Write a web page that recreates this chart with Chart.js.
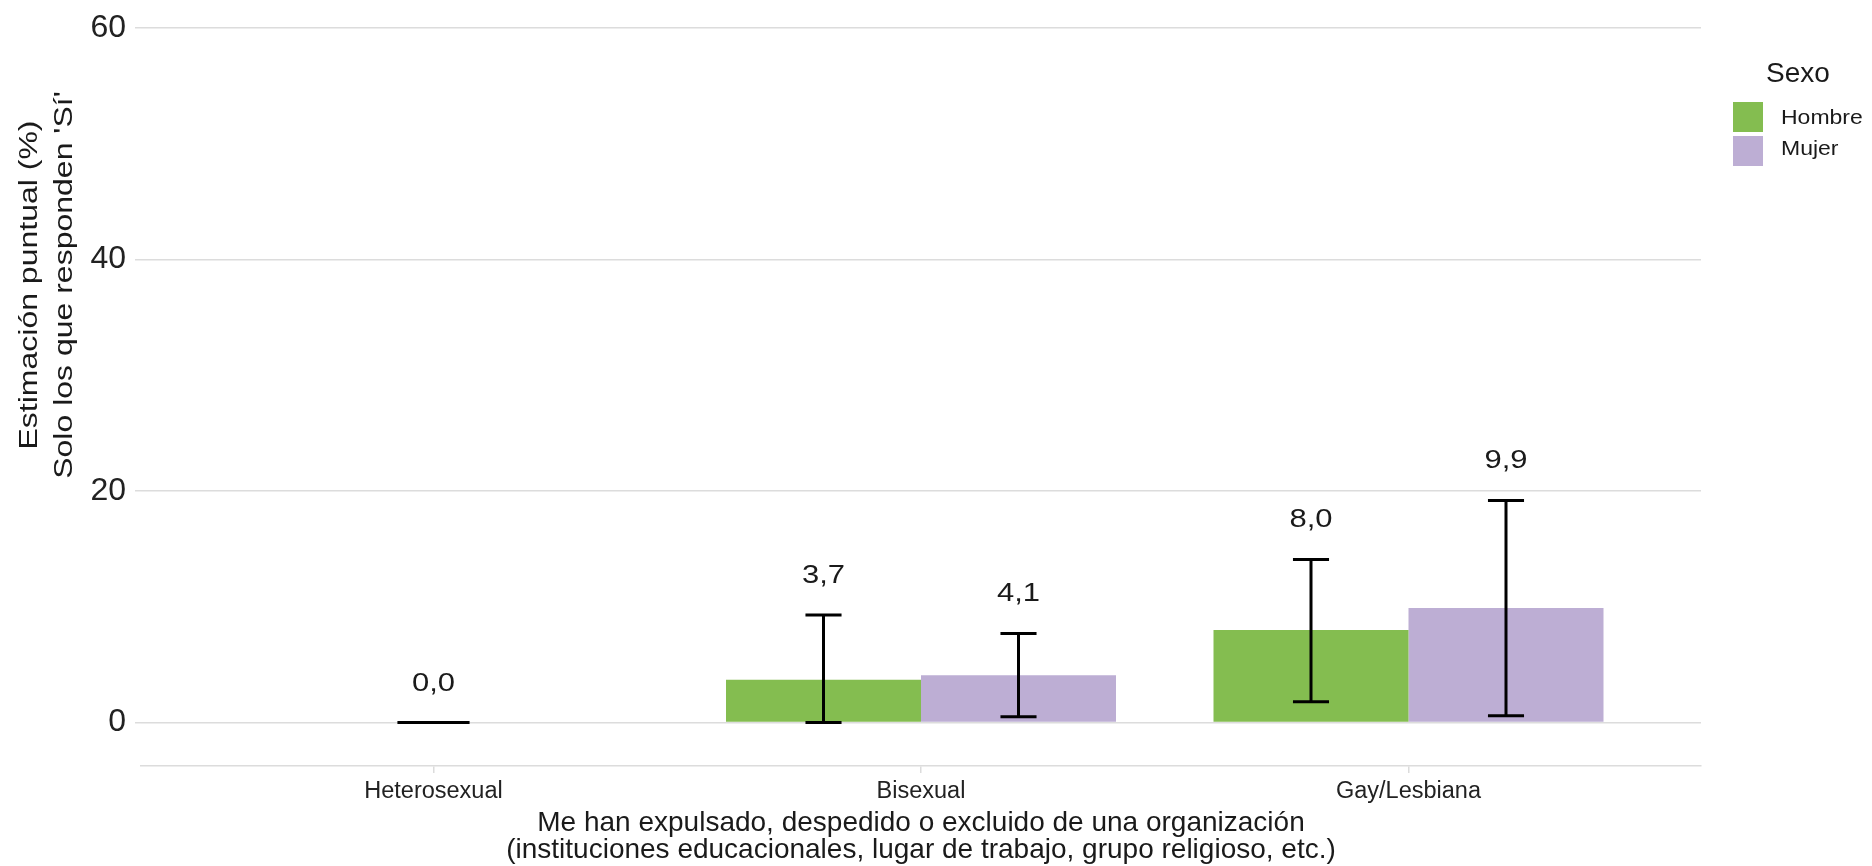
<!DOCTYPE html>
<html>
<head>
<meta charset="utf-8">
<script src="https://cdn.jsdelivr.net/npm/chart.js@4.4.1/dist/chart.umd.min.js"></script>
<style>
  html, body { margin: 0; padding: 0; background: #fff; }
  #wrap { position: relative; width: 1872px; height: 866px; }
  .lg { position: absolute; font-family: 'Liberation Sans', Arial, sans-serif; color: #1a1a1a; white-space: nowrap; }
  .item { transform: scaleY(0.85); transform-origin: left center; }
  .key { position: absolute; width: 30px; height: 30px; }
</style>
</head>
<body>
<div id="wrap">
  <canvas id="chart"></canvas>
  <div class="lg" style="left:1733px;width:130px;top:59px;font-size:28px;line-height:28px;text-align:center;">Sexo</div>
  <div class="key" id="key-h" style="left:1733px;top:102px;"></div>
  <div class="lg item" style="left:1781px;top:106px;font-size:23px;line-height:23px;">Hombre</div>
  <div class="key" id="key-m" style="left:1733px;top:136px;"></div>
  <div class="lg item" style="left:1781px;top:137px;font-size:23px;line-height:23px;">Mujer</div>
</div>
<script>
var categories = ['Heterosexual', 'Bisexual', 'Gay/Lesbiana'];
var hombre = [0.0, 3.7, 8.0];
var mujer = [null, 4.1, 9.9];
var hombreLow = [0.0, 0.0, 1.8];
var hombreHigh = [0.0, 9.3, 14.1];
var mujerLow = [null, 0.5, 0.6];
var mujerHigh = [null, 7.7, 19.2];
var yTicks = [0, 20, 40, 60];
var yTitle = ['Estimación puntual (%)', "Solo los que responden 'Sí'"];
var xTitle = [
  'Me han expulsado, despedido o excluido de una organización',
  '(instituciones educacionales, lugar de trabajo, grupo religioso, etc.)'
];

var green = '#84bd50';
var purple = '#bdaed4';
var gridColor = '#dcdcdc';
var textColor = '#1a1a1a';
var fontFamily = "'Liberation Sans', Arial, sans-serif";

document.getElementById('key-h').style.background = green;
document.getElementById('key-m').style.background = purple;

function points(values) {
  return values.map(function (v, i) {
    return { x: i + 1, y: v };
  });
}

function fmt(v) {
  return v.toFixed(1).replace('.', ',');
}

// error bars + value labels on top of the bars
var errorBars = {
  id: 'errorBars',
  afterDatasetsDraw: function (chart) {
    var ctx = chart.ctx;
    var yScale = chart.scales.y;
    ctx.save();
    chart.data.datasets.forEach(function (ds, di) {
      var meta = chart.getDatasetMeta(di);
      meta.data.forEach(function (bar, i) {
        var v = ds.data[i].y;
        if (v === null) return;
        var p = bar.getProps(['x', 'width'], true);
        var half = p.width * 0.185 / 2;
        var yLo = yScale.getPixelForValue(ds.low[i]);
        var yHi = yScale.getPixelForValue(ds.high[i]);
        ctx.strokeStyle = '#000';
        ctx.lineWidth = 3;
        ctx.beginPath();
        ctx.moveTo(p.x, yLo);
        ctx.lineTo(p.x, yHi);
        ctx.moveTo(p.x - half, yLo);
        ctx.lineTo(p.x + half, yLo);
        ctx.moveTo(p.x - half, yHi);
        ctx.lineTo(p.x + half, yHi);
        ctx.stroke();

        ctx.save();
        ctx.translate(p.x, yHi - 32);
        ctx.scale(1, 0.83);
        ctx.fillStyle = textColor;
        ctx.font = '31px ' + fontFamily;
        ctx.textAlign = 'center';
        ctx.textBaseline = 'alphabetic';
        ctx.fillText(fmt(v), 0, 0);
        ctx.restore();
      });
    });
    ctx.restore();
  }
};

var yTitlePlugin = {
  id: 'yTitle',
  afterDraw: function (chart) {
    var ctx = chart.ctx;
    var xs = [37, 72];
    ctx.save();
    ctx.fillStyle = textColor;
    ctx.font = '32px ' + fontFamily;
    ctx.textAlign = 'center';
    ctx.textBaseline = 'alphabetic';
    yTitle.forEach(function (line, i) {
      ctx.save();
      ctx.translate(xs[i], 285);
      ctx.rotate(-Math.PI / 2);
      ctx.scale(1, 0.8);
      ctx.fillText(line, 0, 0);
      ctx.restore();
    });
    ctx.restore();
  }
};

Chart.defaults.font.family = fontFamily;
Chart.defaults.color = textColor;

new Chart(document.getElementById('chart'), {
  type: 'bar',
  data: {
    datasets: [
      {
        label: 'Hombre',
        data: points(hombre),
        low: hombreLow,
        high: hombreHigh,
        backgroundColor: green,
        borderWidth: 0,
        skipNull: true,
        categoryPercentage: 0.8,
        barPercentage: 1.0
      },
      {
        label: 'Mujer',
        data: points(mujer),
        low: mujerLow,
        high: mujerHigh,
        backgroundColor: purple,
        borderWidth: 0,
        skipNull: true,
        categoryPercentage: 0.8,
        barPercentage: 1.0
      }
    ]
  },
  options: {
    responsive: true,
    maintainAspectRatio: false,
    animation: false,
    events: [],
    layout: { padding: { top: 20, right: 171, bottom: 0, left: 0 } },
    plugins: {
      legend: { display: false },
      tooltip: { enabled: false }
    },
    scales: {
      x: {
        type: 'linear',
        min: 0.4,
        max: 3.6,
        offset: false,
        afterBuildTicks: function (scale) {
          scale.ticks = categories.map(function (c, i) {
            return { value: i + 1 };
          });
        },
        afterFit: function (scale) {
          scale.height = 100;
        },
        grid: {
          offset: false,
          drawOnChartArea: false,
          drawTicks: true,
          tickLength: 7,
          color: gridColor,
          lineWidth: 1.5
        },
        border: { display: true, color: gridColor, width: 1.5 },
        ticks: {
          padding: 4,
          color: '#222',
          font: { size: 23.5 },
          maxRotation: 0,
          callback: function (v) {
            return categories[v - 1] || '';
          }
        },
        title: {
          display: true,
          text: xTitle,
          color: textColor,
          font: { size: 28, lineHeight: 0.975 },
          padding: { top: 0, bottom: 2 }
        }
      },
      y: {
        min: -3.75,
        max: 60,
        afterBuildTicks: function (scale) {
          scale.ticks = yTicks.map(function (v) {
            return { value: v };
          });
        },
        afterFit: function (scale) {
          scale.width = 141;
        },
        grid: {
          color: gridColor,
          lineWidth: 1.5,
          drawTicks: true,
          tickLength: 6
        },
        border: { display: false },
        ticks: {
          padding: 9,
          color: '#222',
          font: { size: 32 }
        }
      }
    }
  },
  plugins: [errorBars, yTitlePlugin]
});
</script>
</body>
</html>
